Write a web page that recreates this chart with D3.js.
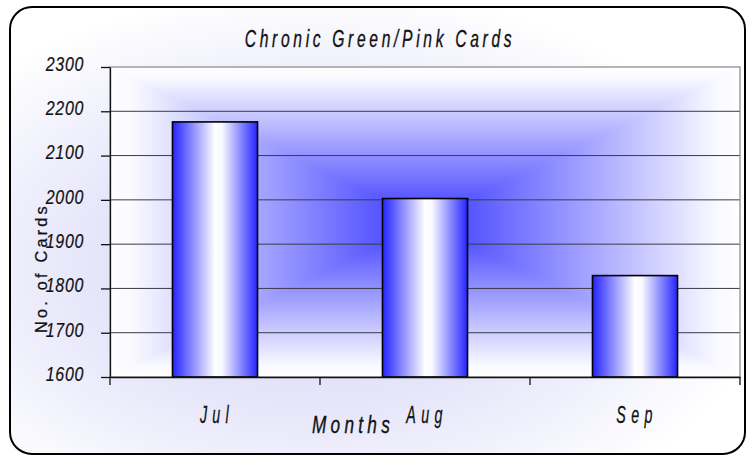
<!DOCTYPE html>
<html>
<head>
<meta charset="utf-8">
<script src="https://cdn.jsdelivr.net/npm/d3@7/dist/d3.min.js"></script>
<style>
  html, body { margin: 0; padding: 0; background: #fff; }
  svg { display: block; }
  text { font-family: "Liberation Sans", Arial, sans-serif; fill: #111; }
</style>
</head>
<body>
<div class="chart"></div>
<script>
// data
var months = ["Jul", "Aug", "Sep"];
var cards = [2176, 2003, 1829];
var yTicks = [1600, 1700, 1800, 1900, 2000, 2100, 2200, 2300];
var title = "Chronic Green/Pink Cards";
var xTitle = "Months";
var yTitle = "No. of Cards";

var width = 746, height = 455;
var plot = {left: 110, top: 67, right: 740, bottom: 377};

var svg = d3.select('.chart')
    .append('svg')
    .attr('width', width)
    .attr('height', height);

var defs = svg.append('defs');

// chart area: pale lavender fading to white
var bg = defs.append('radialGradient').attr('id', 'chartBg')
    .attr('cx', '42%').attr('cy', '58%').attr('r', '62%');
bg.append('stop').attr('offset', 0).attr('stop-color', '#d2d2f6');
bg.append('stop').attr('offset', 0.6).attr('stop-color', '#eaeafb');
bg.append('stop').attr('offset', 1).attr('stop-color', '#ffffff');

// bars: blue edges, white middle
var barGrad = defs.append('linearGradient').attr('id', 'barGrad')
    .attr('x1', 0).attr('x2', 1).attr('y1', 0).attr('y2', 0);
barGrad.append('stop').attr('offset', 0).attr('stop-color', '#2424ff');
barGrad.append('stop').attr('offset', 0.5).attr('stop-color', '#ffffff');
barGrad.append('stop').attr('offset', 0.58).attr('stop-color', '#fafaff');
barGrad.append('stop').attr('offset', 1).attr('stop-color', '#2424ff');

svg.append('rect')
    .attr('x', 10).attr('y', 7)
    .attr('width', 735).attr('height', 447)
    .attr('rx', 22).attr('ry', 22)
    .attr('fill', 'url(#chartBg)')
    .attr('stroke', '#000')
    .attr('stroke-width', 2);

// scales
var x = d3.scaleBand()
    .domain(months)
    .range([plot.left, plot.right])
    .paddingInner(0.595)
    .paddingOuter(0.2975);

var y = d3.scaleLinear()
    .domain([1600, 2300])
    .range([plot.bottom, plot.top]);

// plot area: rectangular "from centre" gradient, built from 4 triangles
var cx = (plot.left + plot.right) / 2, cy = (plot.top + plot.bottom) / 2;
var edgeC = '#ffffff', midC = '#3838ff';
var tris = [
    {id: 'gT', pts: [[plot.left, plot.top], [plot.right, plot.top], [cx, cy]], g: [cx, plot.top, cx, cy]},
    {id: 'gB', pts: [[plot.left, plot.bottom], [plot.right, plot.bottom], [cx, cy]], g: [cx, plot.bottom, cx, cy]},
    {id: 'gL', pts: [[plot.left, plot.top], [plot.left, plot.bottom], [cx, cy]], g: [plot.left, cy, cx, cy]},
    {id: 'gR', pts: [[plot.right, plot.top], [plot.right, plot.bottom], [cx, cy]], g: [plot.right, cy, cx, cy]}
];
tris.forEach(function(t) {
    var lg = defs.append('linearGradient').attr('id', t.id)
        .attr('gradientUnits', 'userSpaceOnUse')
        .attr('x1', t.g[0]).attr('y1', t.g[1]).attr('x2', t.g[2]).attr('y2', t.g[3]);
    lg.append('stop').attr('offset', 0).attr('stop-color', edgeC);
    lg.append('stop').attr('offset', 0.08).attr('stop-color', '#f8f8ff');
    lg.append('stop').attr('offset', 1).attr('stop-color', midC);
});
svg.append('g').selectAll('polygon')
    .data(tris)
    .enter()
    .append('polygon')
    .attr('points', d => d.pts.map(p => p.join(',')).join(' '))
    .attr('fill', d => 'url(#' + d.id + ')')
    .attr('stroke', d => 'url(#' + d.id + ')')
    .attr('stroke-width', 0.6);

// gridlines
svg.append('g').selectAll('line')
    .data(yTicks.filter(d => d > 1600 && d < 2300))
    .enter()
    .append('line')
    .attr('x1', plot.left).attr('x2', plot.right)
    .attr('y1', d => y(d)).attr('y2', d => y(d))
    .attr('stroke', '#3a3a44')
    .attr('stroke-width', 1);

// plot frame (grey top/right)
svg.append('rect')
    .attr('x', plot.left).attr('y', plot.top)
    .attr('width', plot.right - plot.left).attr('height', plot.bottom - plot.top)
    .attr('fill', 'none')
    .attr('stroke', '#858585')
    .attr('stroke-width', 1.2);

// bars
svg.append('g').selectAll('rect')
    .data(months.map((m, i) => ({month: m, value: cards[i]})))
    .enter()
    .append('rect')
    .attr('x', d => x(d.month))
    .attr('y', d => y(d.value))
    .attr('width', x.bandwidth())
    .attr('height', d => y(1600) - y(d.value))
    .attr('fill', 'url(#barGrad)')
    .attr('stroke', '#000')
    .attr('stroke-width', 1.6);

// squeezed text helper: the original uses a narrow italic face
function label(parent, str, px, py, opt) {
    var g = parent.append('g')
        .attr('transform', 'translate(' + px + ',' + py + ')' + (opt.rotate ? ' rotate(' + opt.rotate + ')' : '') + ' scale(' + opt.k + ',1)');
    return g.append('text')
        .text(str)
        .attr('text-anchor', opt.anchor || 'middle')
        .attr('stroke', '#111')
        .attr('stroke-width', opt.sw || 0.35)
        .style('font-size', opt.size + 'px')
        .style('font-style', opt.italic === false ? 'normal' : 'italic')
        .style('letter-spacing', (opt.ls || 0) + 'px');
}

// y axis
var yAxis = d3.axisLeft(y).tickValues(yTicks).tickSize(9).tickSizeOuter(0).tickFormat('');
svg.append('g')
    .attr('transform', 'translate(' + plot.left + ',0)')
    .call(yAxis)
    .call(g => g.selectAll('line,path').attr('stroke', '#111').attr('stroke-width', 1.3));

var yLab = svg.append('g');
yTicks.forEach(function(t) {
    label(yLab, String(t), 84, y(t) + 3.8, {size: 19.5, k: 0.82, ls: 0.8, anchor: 'end', sw: 0.2});
});

// x axis: line + ticks at category boundaries
var xAxis = d3.axisBottom(x).tickSize(0).tickSizeOuter(0).tickFormat('');
svg.append('g')
    .attr('transform', 'translate(0,' + plot.bottom + ')')
    .call(xAxis)
    .call(g => g.select('path').attr('stroke', '#111').attr('stroke-width', 1.3));

var gap = (x.step() - x.bandwidth()) / 2;
var bounds = months.map(m => x(m) - gap).concat([x(months[months.length - 1]) + x.bandwidth() + gap]);
svg.append('g').selectAll('line')
    .data(bounds)
    .enter()
    .append('line')
    .attr('x1', d => d).attr('x2', d => d)
    .attr('y1', plot.bottom).attr('y2', plot.bottom + 8)
    .attr('stroke', '#111')
    .attr('stroke-width', 1.3);

var xLab = svg.append('g');
months.forEach(function(m) {
    label(xLab, m, x(m) + x.bandwidth() / 2 + 2, 423, {size: 23, k: 0.62, ls: 8.6, sw: 0.3});
});

// titles
label(svg, title, 380, 46.5, {size: 23, k: 0.68, ls: 5.4});
label(svg, xTitle, 353, 433, {size: 23, k: 0.75, ls: 5.7});
label(svg, yTitle, 46.5, 268, {size: 16.3, k: 1, ls: 3.2, italic: false, rotate: -90, sw: 0.25});
</script>
</body>
</html>
